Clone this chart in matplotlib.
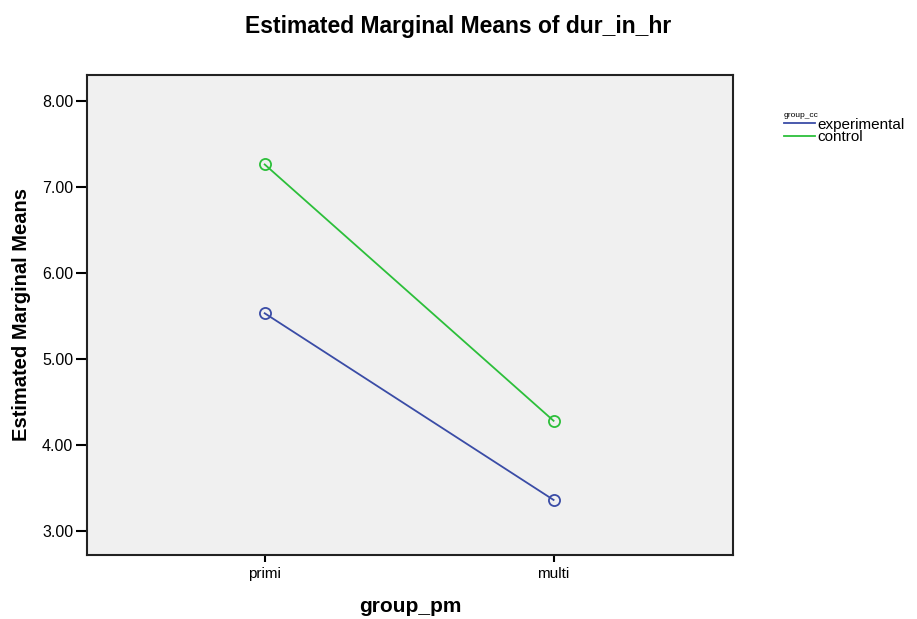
import matplotlib
matplotlib.use("Agg")
import matplotlib.pyplot as plt

plt.rcParams['font.family'] = ['Liberation Sans', 'DejaVu Sans']

# data
groups = ['primi', 'multi']
experimental = [5.53, 3.36]
control = [7.26, 4.28]
y_ticks = [3.0, 4.0, 5.0, 6.0, 7.0, 8.0]

blue = '#3a4ca6'
green = '#2cbf3a'

fig = plt.figure(figsize=(9.17, 6.19), dpi=100)
ax = fig.add_axes([0.0949, 0.1034, 0.7041, 0.7755])
ax.set_facecolor('#f0f0f0')

x = [1, 2]
ax.plot(x, experimental, color=blue, linewidth=1.3, marker='o', markersize=8,
        markerfacecolor='none', markeredgecolor=blue, markeredgewidth=1.3, label='experimental')
ax.plot(x, control, color=green, linewidth=1.3, marker='o', markersize=8,
        markerfacecolor='none', markeredgecolor=green, markeredgewidth=1.3, label='control')

ax.set_xlim(0.385, 2.62)
ax.set_ylim(2.72, 8.30)
ax.set_xticks(x)
ax.set_xticklabels(groups, fontsize=11)
ax.set_yticks(y_ticks)
ax.set_yticklabels([f'{v:.2f}' for v in y_ticks], fontsize=11.5)
ax.tick_params(axis='y', direction='out', length=8, width=1.5, pad=2)
ax.tick_params(axis='x', direction='out', length=5, width=1.5, pad=4)
for s in ax.spines.values():
    s.set_linewidth(1.5)
    s.set_color('#222222')

ax.set_xlabel('group_pm', fontsize=15, fontweight='bold', labelpad=11)
ax.set_ylabel('Estimated Marginal Means', fontsize=14.5, fontweight='bold', labelpad=8)
fig.suptitle('Estimated Marginal Means of dur_in_hr', fontsize=16.5, fontweight='bold', y=0.975)

leg = ax.legend(loc='upper left', bbox_to_anchor=(1.07, 0.935), frameon=False,
                fontsize=11, title='group_cc', title_fontsize=6, handlelength=2.0,
                handletextpad=0.2, labelspacing=-0.1, borderaxespad=0)
leg._legend_box.align = 'left'
for h in leg.legend_handles:
    h.set_marker('')

fig.savefig('out.png', dpi=100)
